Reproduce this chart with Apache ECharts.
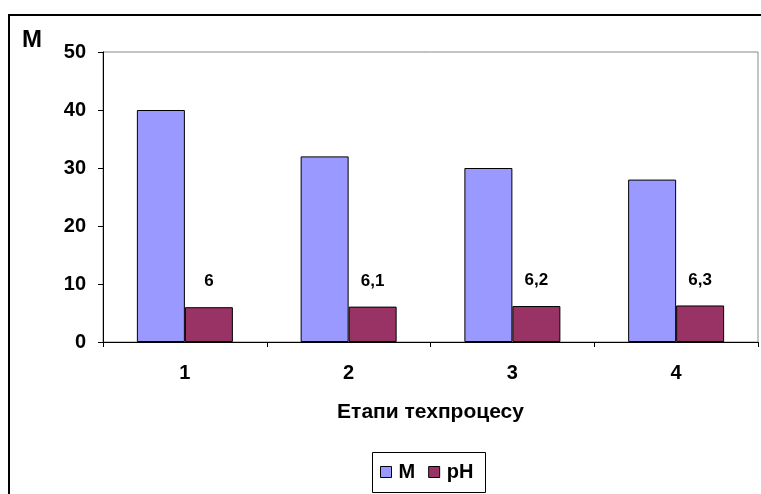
<!DOCTYPE html>
<html><head><meta charset="utf-8">
<script src="https://cdn.jsdelivr.net/npm/echarts@6/dist/echarts.min.js"></script>
<style>html,body{margin:0;padding:0;background:#fff}#c{width:761px;height:494px}</style>
</head><body><div id="c"></div>
<script>
const categories = ['1', '2', '3', '4'];
const mValues = [40, 32, 30, 28];
const phValues = [6, 6.1, 6.2, 6.3];
const phLabels = ['6', '6,1', '6,2', '6,3'];
const yTicks = [0, 10, 20, 30, 40, 50];

const chart = echarts.init(document.getElementById('c'));
const F = 'Liberation Sans, Arial, sans-serif';
chart.setOption({
  animation: false,
  backgroundColor: '#fff',
  grid: { left: 103, right: 3, top: 52, bottom: 152, show: true, borderColor: '#888', borderWidth: 1 },
  graphic: [
    { type: 'line', shape: { x1: 9, y1: 15, x2: 9, y2: 494 }, style: { stroke: '#000', lineWidth: 2 } },
    { type: 'line', shape: { x1: 8, y1: 15, x2: 761, y2: 15 }, style: { stroke: '#000', lineWidth: 2 } },
    { type: 'text', left: 22, top: 28, style: { text: 'M', font: 'bold 24px ' + F, fill: '#000' } },
    { type: 'rect', shape: { x: 372.5, y: 452.5, width: 113, height: 40 }, style: { fill: 'none', stroke: '#000', lineWidth: 1 } }
  ],
  legend: {
    top: 462, left: 380, padding: 0, itemWidth: 11, itemHeight: 11, itemGap: 13,
    textStyle: { fontFamily: F, fontWeight: 'bold', fontSize: 20, color: '#000', padding: [0, 0, 0, 2] },
    data: [
      { name: 'M', icon: 'rect', itemStyle: { borderColor: '#000', borderWidth: 1 } },
      { name: 'pH', icon: 'rect', itemStyle: { borderColor: '#000', borderWidth: 1 } }
    ]
  },
  xAxis: {
    type: 'category', data: categories,
    name: 'Етапи техпроцесу', nameLocation: 'middle', nameGap: 60,
    nameTextStyle: { fontFamily: F, fontWeight: 'bold', fontSize: 21, color: '#000' },
    axisLine: { lineStyle: { color: '#000', width: 1 } },
    axisTick: { show: true, length: 5, inside: false, lineStyle: { color: '#000' } },
    axisLabel: { fontFamily: F, fontWeight: 'bold', fontSize: 20, color: '#000', margin: 21 }
  },
  yAxis: {
    type: 'value', min: 0, max: 50, interval: 10,
    axisLine: { show: true, lineStyle: { color: '#000', width: 1 } },
    axisTick: { show: true, length: 5, lineStyle: { color: '#000' } },
    splitLine: { show: false },
    axisLabel: { fontFamily: F, fontWeight: 'bold', fontSize: 20, color: '#000', margin: 17,
      formatter: v => yTicks.includes(v) ? String(v) : '' }
  },
  series: [
    { name: 'M', type: 'bar', data: mValues, barWidth: 48, barGap: '0%',
      itemStyle: { color: '#9999ff', borderColor: '#000', borderWidth: 1 } },
    { name: 'pH', type: 'bar', data: phValues, barWidth: 48,
      itemStyle: { color: '#993366', borderColor: '#000', borderWidth: 1 },
      label: { show: true, position: 'top', distance: 17, fontFamily: F, fontWeight: 'bold', fontSize: 17, color: '#000',
        formatter: p => phLabels[p.dataIndex] } }
  ]
});
</script></body></html>
